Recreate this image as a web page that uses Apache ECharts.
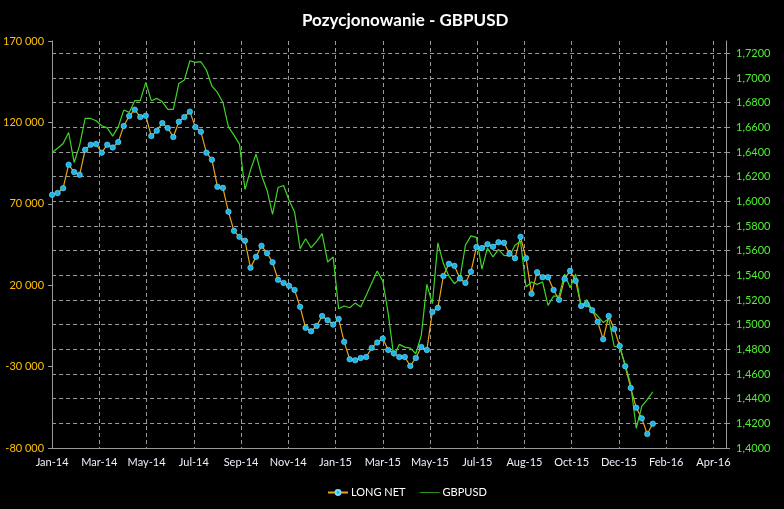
<!DOCTYPE html>
<html>
<head>
<meta charset="utf-8">
<script src="https://cdn.jsdelivr.net/npm/echarts@6/dist/echarts.min.js"></script>
<style>
  html, body { margin: 0; padding: 0; background: #000; }
  #chart { width: 784px; height: 509px; }
</style>
</head>
<body>
<div id="chart"></div>
<script>
// weekly COT reports, first one on Tuesday 7 Jan 2014
const FIRST_REPORT = '2014-01-07';
const MONTHS = ['Jan', 'Feb', 'Mar', 'Apr', 'May', 'Jun', 'Jul', 'Aug', 'Sep', 'Oct', 'Nov', 'Dec'];

const LONG_NET = [
  75500, 76600, 79600, 94000, 89500, 87800, 103200, 106300, 106700, 101400,
  106300, 104600, 107900, 117800, 123900, 127800, 123300, 124100, 111600, 114900,
  119600, 116500, 111000, 120400, 123300, 126600, 117100, 114300, 101400, 97100,
  80500, 79800, 65100, 53400, 49700, 47300, 30700, 37400, 44200, 39700,
  34100, 23300, 21400, 19600, 17100, 6700, -6200, -8300, -5000, 1100,
  -1500, -4200, -700, -14800, -25500, -26100, -24700, -24100, -18500, -15200,
  -12800, -19800, -21800, -24100, -24100, -29600, -24700, -17900, -19800, 3600,
  6100, 25700, 33100, 31900, 24100, 21400, 28200, 43400, 42800, 45200,
  43600, 46400, 46000, 39300, 36600, 49700, 36600, 14700, 28000, 24900,
  24900, 17100, 11000, 23900, 28800, 22700, 7300, 8300, 4600, -2500,
  -13200, 1100, -6900, -17300, -29800, -43100, -55300, -61800, -71400, -65100
];

const GBPUSD = [
  1.6396, 1.6430, 1.6469, 1.6558, 1.6315, 1.6456, 1.6672, 1.6672, 1.6653, 1.6613,
  1.6596, 1.6529, 1.6604, 1.6740, 1.6721, 1.6816, 1.6816, 1.6964, 1.6816, 1.6835,
  1.6807, 1.6745, 1.6745, 1.6956, 1.6983, 1.7140, 1.7127, 1.7132, 1.7065, 1.6935,
  1.6883, 1.6802, 1.6604, 1.6537, 1.6464, 1.6096, 1.6253, 1.6382, 1.6212, 1.6090,
  1.5895, 1.6112, 1.6128, 1.6009, 1.5914, 1.5616, 1.5697, 1.5624, 1.5676, 1.5738,
  1.5508, 1.5549, 1.5129, 1.5151, 1.5137, 1.5175, 1.5143, 1.5238, 1.5338, 1.5435,
  1.5354, 1.5090, 1.4742, 1.4840, 1.4818, 1.4810, 1.4764, 1.4915, 1.5327, 1.5170,
  1.5663, 1.5495, 1.5395, 1.5332, 1.5373, 1.5644, 1.5720, 1.5708, 1.5450, 1.5622,
  1.5549, 1.5611, 1.5562, 1.5557, 1.5644, 1.5676, 1.5305, 1.5346, 1.5327, 1.5346,
  1.5156, 1.5232, 1.5232, 1.5410, 1.5300, 1.5410, 1.5140, 1.5203, 1.5116, 1.5070,
  1.5018, 1.5048, 1.4825, 1.4815, 1.4676, 1.4513, 1.4160, 1.4338, 1.4392, 1.4456
];

const DAY = 86400000;
const start = Date.parse(FIRST_REPORT + 'T00:00:00Z');
// x = days since first report
const reportDays = LONG_NET.map((_, i) => i * 7);

const fmtThousands = (v) => {
  const s = String(Math.abs(Math.round(v))).replace(/\B(?=(\d{3})+(?!\d))/g, ' ');
  return (v < 0 ? '-' : '') + s;
};

const fmtDate = (d) => {
  if (d % 60 !== 0) return '';
  const dt = new Date(start + d * DAY);
  return MONTHS[dt.getUTCMonth()] + '-' + String(dt.getUTCFullYear()).slice(2);
};

const fmtRate = (v) => {
  const c = v * 100;
  if (Math.abs(c - Math.round(c)) > 1e-6 || Math.round(c) % 2 !== 0) return '';
  return v.toFixed(4).replace('.', ',');
};

const gridGrey = '#9a9a9a';
const orange = '#eba414';
const green = '#3fd526';
const font = 'Lato';

const chart = echarts.init(document.getElementById('chart'));

chart.setOption({
  backgroundColor: '#000',
  animation: false,
  title: {
    text: 'Pozycjonowanie - GBPUSD',
    left: 297,
    top: 7,
    textStyle: { color: '#fff', fontFamily: font, fontWeight: 'bold', fontSize: 17 }
  },
  legend: {
    bottom: 6,
    left: 322,
    itemWidth: 20,
    itemHeight: 6,
    itemGap: 14,
    textStyle: { color: '#fff', fontFamily: font, fontSize: 11, padding: [0, 0, 0, -2] },
    data: [
      'LONG NET',
      // plain line icon, no marker
      { name: 'GBPUSD', icon: 'path://M0,0H40V1.4H0Z', itemStyle: { color: green } }
    ]
  },
  grid: { left: 52, right: 58, top: 41, bottom: 61 },
  xAxis: {
    type: 'value',
    min: 0,
    max: 856,
    interval: 60,
    axisLine: { show: true, onZero: false, lineStyle: { color: gridGrey } },
    axisTick: { show: false },
    axisLabel: {
      color: '#f0f0ff', fontFamily: font, fontSize: 11, margin: 9,
      showMaxLabel: false, formatter: fmtDate
    },
    splitLine: {
      show: true, showMinLine: false, showMaxLine: false,
      lineStyle: { color: gridGrey, type: [4, 3], width: 1 }
    }
  },
  yAxis: [
    {
      type: 'value',
      min: -80000,
      max: 170000,
      interval: 50000,
      axisLine: { show: true, lineStyle: { color: gridGrey } },
      axisTick: { show: true, length: 4, lineStyle: { color: gridGrey } },
      axisLabel: { color: '#ffc000', fontFamily: font, fontSize: 11, margin: 8, formatter: fmtThousands },
      splitLine: { show: false }
    },
    {
      type: 'value',
      min: 1.40,
      max: 1.73,
      interval: 0.02,
      position: 'right',
      axisLine: { show: true, lineStyle: { color: gridGrey } },
      axisTick: { show: true, length: 4, lineStyle: { color: gridGrey } },
      axisLabel: {
        color: '#4ef030', fontFamily: font, fontSize: 11, margin: 10,
        showMaxLabel: false, formatter: fmtRate
      },
      splitLine: {
        show: true, showMinLine: false, showMaxLine: false,
        lineStyle: { color: gridGrey, type: [4, 3], width: 1 }
      }
    }
  ],
  series: [
    {
      name: 'LONG NET',
      type: 'line',
      yAxisIndex: 0,
      data: reportDays.map((d, i) => [d, LONG_NET[i]]),
      symbol: 'circle',
      symbolSize: 5.5,
      lineStyle: { color: orange, width: 1.2 },
      itemStyle: { color: '#1cb4e4', borderColor: '#7adfff', borderWidth: 0.6 }
    },
    {
      name: 'GBPUSD',
      type: 'line',
      yAxisIndex: 1,
      data: reportDays.map((d, i) => [d, GBPUSD[i]]),
      showSymbol: false,
      symbol: 'none',
      lineStyle: { color: green, width: 1.2 },
      itemStyle: { color: green }
    }
  ]
});
</script>
</body>
</html>
